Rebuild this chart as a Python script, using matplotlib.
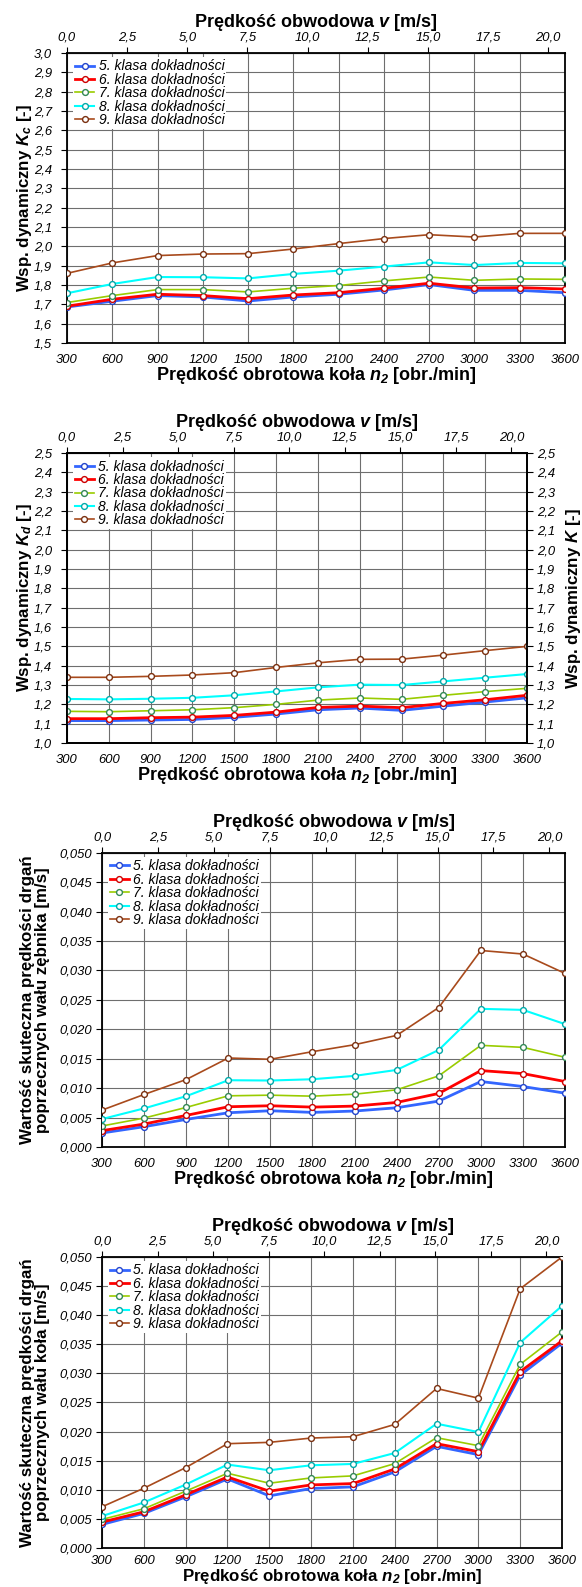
import matplotlib
matplotlib.use('Agg')
import matplotlib.pyplot as plt
from matplotlib.ticker import FuncFormatter, MultipleLocator, FixedLocator

plt.rcParams['font.family'] = ['Liberation Sans', 'DejaVu Sans']
plt.rcParams['font.style'] = 'italic'
plt.rcParams['mathtext.fontset'] = 'custom'
plt.rcParams['mathtext.it'] = 'Liberation Sans:italic:bold'
plt.rcParams['mathtext.rm'] = 'Liberation Sans:bold'
plt.rcParams['mathtext.bf'] = 'Liberation Sans:bold'

# ---------------- data ----------------
n2 = [300, 600, 900, 1200, 1500, 1800, 2100, 2400, 2700, 3000, 3300, 3600]
v_ticks = [0.0, 2.5, 5.0, 7.5, 10.0, 12.5, 15.0, 17.5, 20.0]
V_MAX = 20.7  # peripheral speed at right edge of the plot

labels = ["5. klasa dokładności", "6. klasa dokładności", "7. klasa dokładności",
          "8. klasa dokładności", "9. klasa dokładności"]

kc_5 = [1.686, 1.716, 1.745, 1.738, 1.717, 1.738, 1.752, 1.774, 1.802, 1.772, 1.772, 1.760]
kc_6 = [1.690, 1.726, 1.752, 1.745, 1.729, 1.748, 1.760, 1.783, 1.809, 1.784, 1.786, 1.779]
kc_7 = [1.709, 1.745, 1.776, 1.776, 1.764, 1.783, 1.797, 1.821, 1.841, 1.824, 1.831, 1.829]
kc_8 = [1.757, 1.805, 1.841, 1.840, 1.834, 1.857, 1.874, 1.895, 1.917, 1.903, 1.914, 1.912]
kc_9 = [1.860, 1.914, 1.952, 1.960, 1.962, 1.986, 2.014, 2.040, 2.060, 2.048, 2.067, 2.067]

kd_5 = [1.116, 1.116, 1.119, 1.122, 1.133, 1.150, 1.172, 1.181, 1.169, 1.191, 1.212, 1.234]
kd_6 = [1.126, 1.126, 1.131, 1.134, 1.143, 1.160, 1.184, 1.191, 1.183, 1.205, 1.224, 1.247]
kd_7 = [1.164, 1.162, 1.167, 1.172, 1.183, 1.200, 1.222, 1.233, 1.226, 1.247, 1.266, 1.283]
kd_8 = [1.228, 1.226, 1.229, 1.234, 1.247, 1.267, 1.288, 1.302, 1.300, 1.319, 1.338, 1.357]
kd_9 = [1.340, 1.340, 1.345, 1.352, 1.364, 1.391, 1.415, 1.433, 1.434, 1.455, 1.478, 1.500]

vz_5 = [0.00237, 0.00344, 0.00468, 0.00581, 0.00615, 0.00587, 0.00610, 0.00666, 0.00779, 0.01112, 0.01027, 0.00914]
vz_6 = [0.00277, 0.00389, 0.00536, 0.00683, 0.00700, 0.00677, 0.00694, 0.00756, 0.00909, 0.01298, 0.01247, 0.01112]
vz_7 = [0.00356, 0.00491, 0.00672, 0.00869, 0.00880, 0.00863, 0.00897, 0.00971, 0.01208, 0.01727, 0.01693, 0.01524]
vz_8 = [0.00474, 0.00655, 0.00863, 0.01134, 0.01129, 0.01151, 0.01208, 0.01309, 0.01648, 0.02348, 0.02330, 0.02088]
vz_9 = [0.00626, 0.00892, 0.01146, 0.01512, 0.01490, 0.01620, 0.01738, 0.01896, 0.02370, 0.03340, 0.03280, 0.02950]

vk_5 = [0.00405, 0.00594, 0.00879, 0.01187, 0.00896, 0.01022, 0.01050, 0.01307, 0.01747, 0.01604, 0.02970, 0.03520]
vk_6 = [0.00445, 0.00622, 0.00913, 0.01221, 0.00976, 0.01084, 0.01107, 0.01358, 0.01792, 0.01655, 0.03030, 0.03560]
vk_7 = [0.00491, 0.00674, 0.00976, 0.01284, 0.01113, 0.01204, 0.01239, 0.01450, 0.01895, 0.01758, 0.03155, 0.03713]
vk_8 = [0.00548, 0.00782, 0.01090, 0.01433, 0.01336, 0.01421, 0.01444, 0.01632, 0.02135, 0.01992, 0.03530, 0.04160]
vk_9 = [0.00708, 0.01027, 0.01381, 0.01792, 0.01815, 0.01889, 0.01912, 0.02123, 0.02741, 0.02574, 0.04454, 0.05000]

# ---------------- style ----------------
line_colors = ['#3366FF', '#FF0000', '#99CC00', '#00FFFF', '#A84A1C']
edge_colors = ['#2244CC', '#CC0000', '#338855', '#00AAAA', '#7A3010']
line_widths = [2.0, 2.0, 1.2, 1.5, 1.2]

TICK_FS = 9.4
LAB_FS = 13
YLAB_FS = 12.2
LEG_FS = 10

fig = plt.figure(figsize=(5.82, 15.87), dpi=100)

def fmt1(x, p):
    return f"{x:.1f}".replace('.', ',')

def fmt3(x, p):
    return f"{x:.3f}".replace('.', ',')

def fwd(n):
    return (n - 300) * V_MAX / 3300.0

def inv(v):
    return v * 3300.0 / V_MAX + 300

def make_panel(rect, series, ylim, ystep, yfmt, ylabel, ylab_x, ypad, right_label=None,
               xlabpad=-1, xpad=8, xlab_fs=LAB_FS):
    ax = fig.add_axes(rect)
    for i, ys in enumerate(series):
        ax.plot(n2, ys, color=line_colors[i], lw=line_widths[i], marker='o', ms=4.2,
                mfc='white', mec=edge_colors[i], mew=1.0, label=labels[i], zorder=3 + i)
    ax.set_xlim(300, 3600)
    ax.set_ylim(*ylim)
    ax.xaxis.set_major_locator(FixedLocator(n2))
    ax.yaxis.set_major_locator(MultipleLocator(ystep))
    ax.yaxis.set_major_formatter(FuncFormatter(yfmt))
    ax.grid(True, color='#6e6e6e', lw=0.8)
    ax.set_axisbelow(True)
    for s in ax.spines.values():
        s.set_linewidth(1.3)
        s.set_color('black')
    ax.tick_params(axis='x', direction='out', length=0, pad=xpad, labelsize=TICK_FS)
    ax.tick_params(axis='y', direction='out', length=4, pad=ypad, labelsize=TICK_FS)
    ax.set_xlabel("Prędkość obrotowa koła $n_{\\mathit{2}}$ [obr./min]", fontsize=xlab_fs,
                  fontweight='bold', fontstyle='normal', labelpad=xlabpad)
    ax.set_ylabel(ylabel, fontsize=YLAB_FS, fontweight='bold', fontstyle='normal',
                  linespacing=1.0)
    ax.yaxis.set_label_coords(ylab_x, 0.5)

    sec = ax.secondary_xaxis('top', functions=(fwd, inv))
    sec.xaxis.set_major_locator(FixedLocator(v_ticks))
    sec.xaxis.set_major_formatter(FuncFormatter(fmt1))
    sec.tick_params(direction='out', length=4, pad=3, labelsize=TICK_FS)
    sec.set_xlabel("Prędkość obwodowa $v$ [m/s]", fontsize=LAB_FS, fontweight='bold',
                   fontstyle='normal', labelpad=3)

    if right_label is not None:
        axr = ax.twinx()
        axr.set_ylim(*ylim)
        axr.yaxis.set_major_locator(MultipleLocator(ystep))
        axr.yaxis.set_major_formatter(FuncFormatter(yfmt))
        axr.tick_params(axis='y', direction='out', length=4, pad=3, labelsize=TICK_FS)
        axr.set_ylabel(right_label, fontsize=YLAB_FS, fontweight='bold', fontstyle='normal',
                       rotation=90)
        axr.yaxis.set_label_coords(1.08, 0.5)
        for s in axr.spines.values():
            s.set_linewidth(1.3)

    leg = ax.legend(loc='upper left', bbox_to_anchor=(0.012, 0.985), frameon=True,
                    edgecolor='none', facecolor='white', framealpha=1, fancybox=False,
                    fontsize=LEG_FS, handlelength=1.4, handletextpad=0.3, labelspacing=-0.04,
                    borderpad=0.15, borderaxespad=0)
    leg.set_zorder(20)
    return ax

make_panel([0.1151, 0.7839, 0.8557, 0.1827], [kc_5, kc_6, kc_7, kc_8, kc_9],
           (1.5, 3.0), 0.1, fmt1, "Wsp. dynamiczny $K_c$ [-]", -0.066, 7)

make_panel([0.1151, 0.5318, 0.7904, 0.1827], [kd_5, kd_6, kd_7, kd_8, kd_9],
           (1.0, 2.5), 0.1, fmt1, "Wsp. dynamiczny $K_d$ [-]", -0.071, 7,
           right_label="Wsp. dynamiczny $K$ [-]")

make_panel([0.1753, 0.2773, 0.7955, 0.1853], [vz_5, vz_6, vz_7, vz_8, vz_9],
           (0.0, 0.05), 0.005, fmt3,
           "Wartość skuteczna prędkości drgań\npoprzecznych wału zębnika [m/s]", -0.113, 3)

make_panel([0.1753, 0.02457, 0.7904, 0.1834], [vk_5, vk_6, vk_7, vk_8, vk_9],
           (0.0, 0.05), 0.005, fmt3,
           "Wartość skuteczna prędkości drgań\npoprzecznych wału koła [m/s]", -0.114, 3,
           xlabpad=0, xpad=5, xlab_fs=12.2)

fig.savefig('out.png', dpi=100)
